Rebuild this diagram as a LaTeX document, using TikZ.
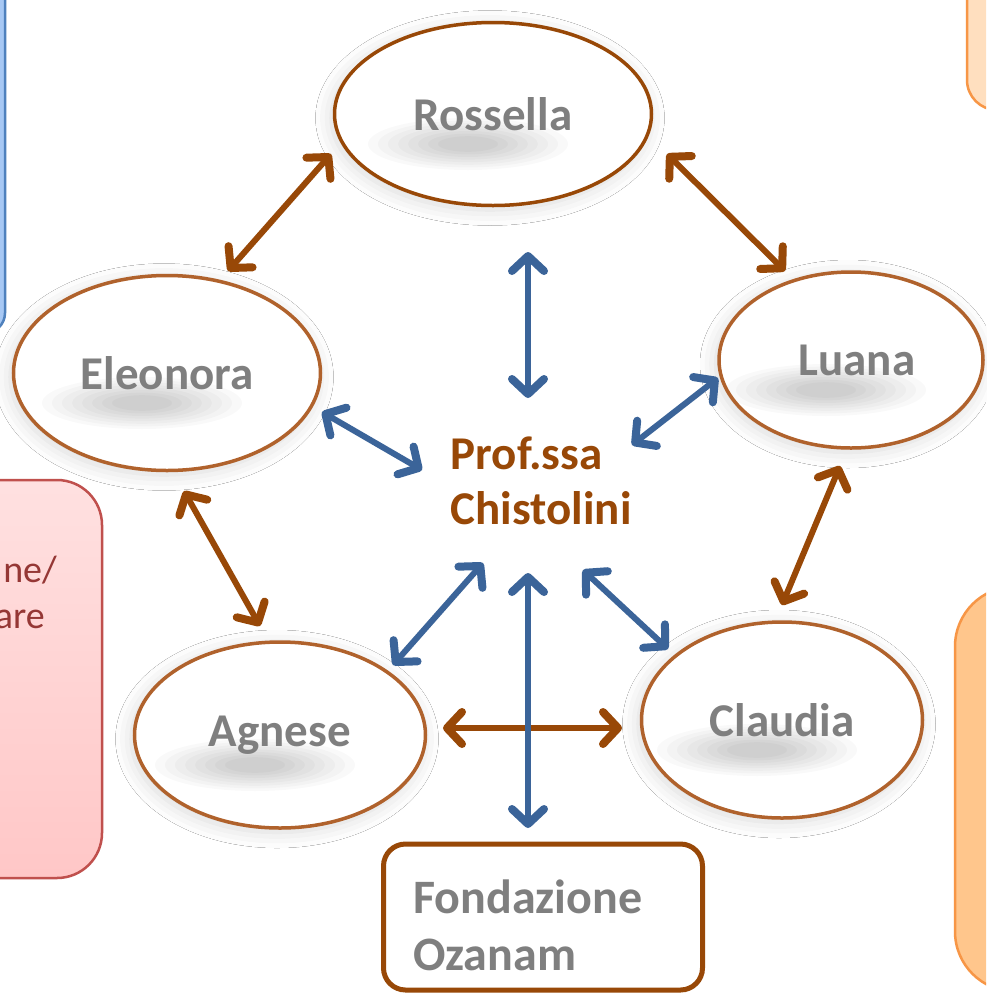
\documentclass[tikz,border=0pt]{standalone}
\usepackage{fontspec}
\setmainfont{Carlito}
\usetikzlibrary{
    positioning,
    arrows.meta,
    shapes.geometric,
    calc,
    shadows.blur
}
\definecolor{linkbrown}{HTML}{984807}
\definecolor{ringbrown}{HTML}{B0622C}
\definecolor{namegrey}{HTML}{7F7F7F}
\definecolor{linkblue}{HTML}{3B6499}
\definecolor{pinkedge}{HTML}{C0504D}
\definecolor{pinktext}{HTML}{953735}
\definecolor{blueedge}{HTML}{4F81BD}
\definecolor{bluefill}{HTML}{A7C8F4}
\definecolor{orangeedge}{HTML}{F79646}
\tikzset{
    >={Straight Barb[length=15pt,width=32pt,line width=8pt,round]},
    person/.style={
        ellipse,
        draw=ringbrown,
        line width=3.5pt,
        fill=white,
        inner sep=0pt,
        text=namegrey,
        font=\fontsize{47}{55}\selectfont\bfseries,
        blur shadow={shadow xshift=-3pt, shadow yshift=-4pt,
            shadow blur radius=16pt, shadow opacity=16},
        path picture={
            \foreach \r in {1.0,0.9,...,0.2}
                \fill[black, opacity=0.022]
                    ($(path picture bounding box.center)+(-25,30)$)
                    ellipse [x radius=\r*100pt, y radius=\r*26pt];
        }
    },
    sidebox/.style={
        rectangle,
        line width=2.5pt,
        inner sep=0pt,
        minimum width=200pt
    },
    bigname/.style={
        inner sep=0pt,
        font=\fontsize{48}{57}\selectfont\bfseries
    },
    brownlink/.style={<->, color=linkbrown, line width=6pt},
    bluelink/.style={<->, color=linkblue, line width=6pt}
}

\begin{document}
\begin{tikzpicture}[x=1pt, y=-1pt]

    \useasboundingbox (0,0) rectangle (986,994);
    \fill[white] (0,0) rectangle (986,994);

    % Riquadri ai margini
    \begin{scope}
        \clip (0,0) rectangle (986,994);
        \node[sidebox, draw=blueedge, fill=bluefill, rounded corners=20pt,
              minimum height=400pt] (bluebox) at (-95,133) {};
        \node[sidebox, draw=pinkedge, top color=red!12, bottom color=red!22,
              rounded corners=45pt, minimum width=300pt,
              minimum height=398pt] (pinkbox) at (-48,679) {};
        \node[sidebox, draw=orangeedge, fill=orange!25!white, rounded corners=30pt,
              minimum height=300pt] (peachbox) at (1067,-40) {};
        \node[sidebox, draw=orangeedge, fill=orange!45!white, rounded corners=60pt,
              minimum height=405pt] (orangebox) at (1055,789) {};
        \node[anchor=base east, text=pinktext, font=\fontsize{38}{46}\selectfont,
              inner sep=0pt] (pinkone) at (57,582) {ne/};
        \node[anchor=base east, text=pinktext, font=\fontsize{38}{46}\selectfont,
              inner sep=0pt] (pinktwo) at (45,628) {are};
    \end{scope}

    % Persone
    \node[person, draw=linkbrown, minimum width=317pt, minimum height=183pt]
        (ross) at (493,114) {Rossella};
    \node[person, minimum width=307pt, minimum height=195pt]
        (eleo) at (167,373) {Eleonora};
    \node[person, minimum width=264pt, minimum height=176pt]
        (luan) at (851,360) {\hspace*{12pt}Luana};
    \node[person, minimum width=291pt, minimum height=186pt]
        (agne) at (280,735) {Agnese};
    \node[person, minimum width=281pt, minimum height=196pt]
        (clau) at (782,720) {Claudia};

    \node[align=left, inner sep=0pt, text=linkbrown,
          font=\fontsize{47}{55}\selectfont\bfseries]
        (prof) at (541,481) {Prof.ssa\\Chistolini};

    \node[rectangle, rounded corners=22pt, draw=linkbrown, line width=5pt,
          fill=white, minimum width=319pt, minimum height=146pt]
        (ozanbox) at (543,917) {};
    \node[bigname, align=left, text=namegrey, anchor=west]
        (ozanam) at (413,925) {Fondazione\\Ozanam};

    % Estremi delle frecce
    \coordinate (ross-w)  at (331,154);
    \coordinate (ross-e)  at (667,154);
    \coordinate (ross-s)  at (528,252);
    \coordinate (eleo-ne) at (228,271);
    \coordinate (eleo-e)  at (322,412);
    \coordinate (eleo-s)  at (184,491);
    \coordinate (luan-nw) at (785,271);
    \coordinate (luan-w)  at (718,378);
    \coordinate (luan-s)  at (840,466);
    \coordinate (agne-n)  at (260,626);
    \coordinate (agne-ne) at (393,665);
    \coordinate (agne-e)  at (443,728);
    \coordinate (clau-n)  at (782,605);
    \coordinate (clau-nw) at (668,649);
    \coordinate (clau-w)  at (622,728);
    \coordinate (ozan-n)  at (528,828);
    \coordinate (prof-n)  at (528,398);
    \coordinate (prof-w)  at (422,470);
    \coordinate (prof-e)  at (632,445);
    \coordinate (prof-sw) at (483,563);
    \coordinate (prof-s)  at (528,573);
    \coordinate (prof-se) at (583,570);

    % Relazioni tra le persone
    \path[brownlink]
        (ross-w) edge (eleo-ne)
        (ross-e) edge (luan-nw)
        (eleo-s) edge (agne-n)
        (luan-s) edge (clau-n)
        (agne-e) edge (clau-w);

    % Relazioni con la docente
    \path[bluelink]
        (ross-s)  edge (prof-n)
        (eleo-e)  edge (prof-w)
        (luan-w)  edge (prof-e)
        (prof-sw) edge (agne-ne)
        (prof-se) edge (clau-nw)
        (prof-s)  edge (ozan-n);

\end{tikzpicture}
\end{document}
